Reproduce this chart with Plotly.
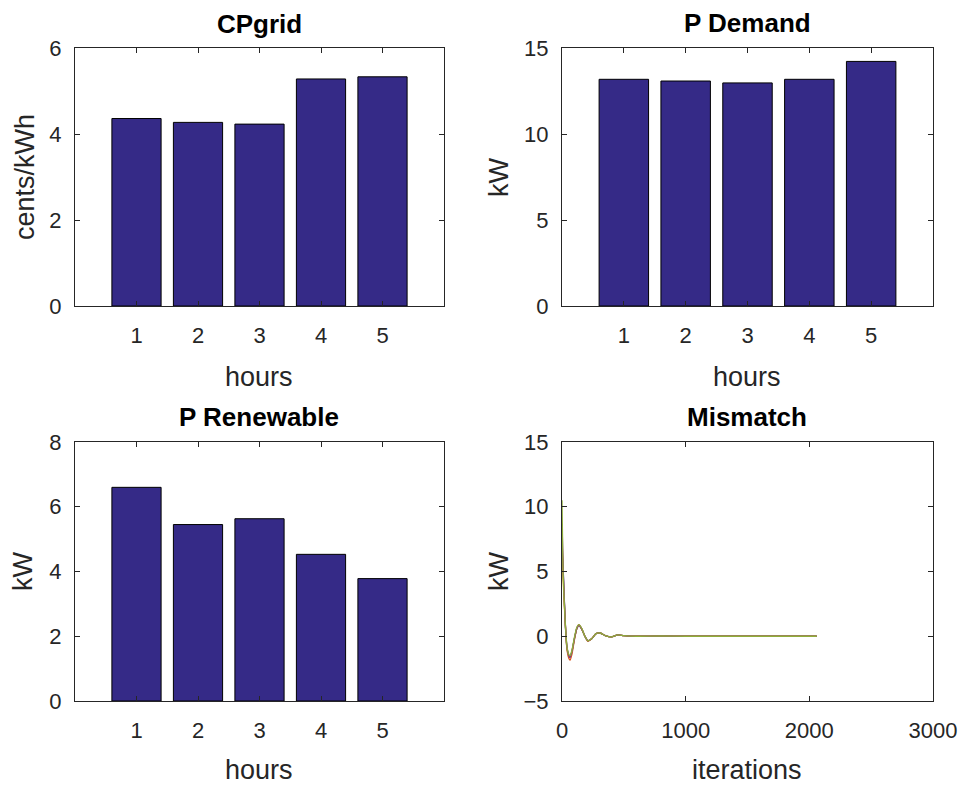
import plotly.graph_objects as go

# ---- data ----
hours = [1, 2, 3, 4, 5]
cp_grid = [4.36, 4.27, 4.23, 5.28, 5.33]          # cents/kWh
p_demand = [13.18, 13.08, 12.97, 13.18, 14.22]    # kW
p_renewable = [6.60, 5.45, 5.63, 4.53, 3.78]      # kW

# mismatch per hour over the iterations (sampled)
iters = [0, 10, 25, 40, 55, 65, 80, 100, 120, 137, 160, 185, 210, 240,
         275, 310, 350, 400, 450, 500, 600, 800, 1000, 1500, 2060]
mis_h1 = [6.6, 5.0, 1.2, -0.9, -1.5, -1.6, -1.2, -0.2, 0.6, 0.85, 0.55, 0.0,
          -0.35, -0.2, 0.2, 0.25, 0.05, -0.05, 0.1, 0.05, 0.0, 0.02, 0.0, 0.0, 0.0]
mis_h2 = [7.6, 4.8, 1.3, -1.0, -1.7, -1.85, -1.4, -0.3, 0.6, 0.9, 0.55, 0.0,
          -0.4, -0.2, 0.2, 0.25, 0.05, -0.05, 0.1, 0.05, 0.0, 0.02, 0.0, 0.0, 0.0]
mis_h3 = [7.3, 4.2, 1.2, -0.9, -1.5, -1.6, -1.2, -0.2, 0.6, 0.85, 0.55, 0.0,
          -0.35, -0.2, 0.2, 0.25, 0.05, -0.05, 0.1, 0.05, 0.0, 0.02, 0.0, 0.0, 0.0]
mis_h4 = [8.7, 5.1, 1.4, -0.8, -1.5, -1.65, -1.2, -0.2, 0.6, 0.85, 0.55, 0.0,
          -0.35, -0.2, 0.2, 0.25, 0.05, -0.05, 0.1, 0.05, 0.0, 0.02, 0.0, 0.0, 0.0]
mis_h5 = [10.5, 4.6, 1.3, -0.8, -1.4, -1.5, -1.1, -0.1, 0.7, 0.9, 0.6, 0.0,
          -0.35, -0.2, 0.2, 0.25, 0.05, -0.05, 0.1, 0.05, 0.0, 0.02, 0.0, 0.0, 0.0]
mismatch = [mis_h1, mis_h2, mis_h3, mis_h4, mis_h5]
line_colors = ["#0072BD", "#D95319", "#EDB120", "#7E2F8E", "#8FAE3A"]

BAR = "#352A87"
AX = "#262626"
FONT = "Liberation Sans, Arial, Helvetica, sans-serif"
W, H = 968, 790

fig = go.Figure()

bar_sets = [(cp_grid, "x", "y"), (p_demand, "x2", "y2"), (p_renewable, "x3", "y3")]
for vals, xa, ya in bar_sets:
    fig.add_trace(go.Bar(x=hours, y=vals, width=0.8, xaxis=xa, yaxis=ya,
                         marker=dict(color=BAR, line=dict(color="#000000", width=1)),
                         showlegend=False, hoverinfo="x+y"))

for vals, col in zip(mismatch, line_colors):
    fig.add_trace(go.Scatter(x=iters, y=vals, mode="lines", xaxis="x4", yaxis="y4",
                             line=dict(color=col, width=1.3, shape="spline", smoothing=0.6),
                             showlegend=False))

axis_common = dict(showline=True, mirror="ticks", linecolor=AX, linewidth=1,
                   ticks="inside", ticklen=5, tickcolor=AX, showgrid=False,
                   zeroline=False, tickfont=dict(family=FONT, size=22, color=AX),
                   automargin=False)
x_common = dict(ticklabelstandoff=10, **axis_common)
y_common = dict(ticklabelstandoff=8, **axis_common)


def px_x(a, b):
    return [a / W, b / W]


def px_y(top, bottom):
    return [1 - bottom / H, 1 - top / H]


xl = px_x(75, 444)
xr = px_x(562, 933)
yt = px_y(48, 306)
yb = px_y(442, 701)

bar_x = dict(range=[0, 6], tickvals=hours)

fig.update_layout(
    width=W, height=H, margin=dict(l=0, r=0, t=0, b=0, autoexpand=False),
    paper_bgcolor="white", plot_bgcolor="white", showlegend=False,
    xaxis=dict(domain=xl, anchor="y", **bar_x, **x_common),
    yaxis=dict(domain=yt, anchor="x", range=[0, 6], tickvals=[0, 2, 4, 6], **y_common),
    xaxis2=dict(domain=xr, anchor="y2", **bar_x, **x_common),
    yaxis2=dict(domain=yt, anchor="x2", range=[0, 15], tickvals=[0, 5, 10, 15], **y_common),
    xaxis3=dict(domain=xl, anchor="y3", **bar_x, **x_common),
    yaxis3=dict(domain=yb, anchor="x3", range=[0, 8], tickvals=[0, 2, 4, 6, 8], **y_common),
    xaxis4=dict(domain=xr, anchor="y4", range=[0, 3000], tickvals=[0, 1000, 2000, 3000],
                **x_common),
    yaxis4=dict(domain=yb, anchor="x4", range=[-5, 15], tickvals=[-5, 0, 5, 10, 15],
                **y_common),
)

# panel titles (bold) and axis labels, placed in pixel terms
titles = [("CPgrid", 259, 24), ("P Demand", 747, 23),
          ("P Renewable", 259, 417), ("Mismatch", 747, 417)]
for text, cx, cy in titles:
    fig.add_annotation(text="<b>%s</b>" % text, xref="paper", yref="paper",
                       x=cx / W, y=1 - cy / H, xanchor="center", yanchor="middle",
                       showarrow=False, font=dict(family=FONT, size=26, color="#000000"))

xlabels = [("hours", 259, 377), ("hours", 747, 377),
           ("hours", 259, 770), ("iterations", 747, 770)]
for text, cx, cy in xlabels:
    fig.add_annotation(text=text, xref="paper", yref="paper",
                       x=cx / W, y=1 - cy / H, xanchor="center", yanchor="middle",
                       showarrow=False, font=dict(family=FONT, size=27, color=AX))

ylabels = [("cents/kWh", 25, 177), ("kW", 499, 177),
           ("kW", 23, 571), ("kW", 499, 571)]
for text, cx, cy in ylabels:
    fig.add_annotation(text=text, xref="paper", yref="paper", textangle=-90,
                       x=cx / W, y=1 - cy / H, xanchor="center", yanchor="middle",
                       showarrow=False, font=dict(family=FONT, size=27, color=AX))

fig.write_html("out.html")
